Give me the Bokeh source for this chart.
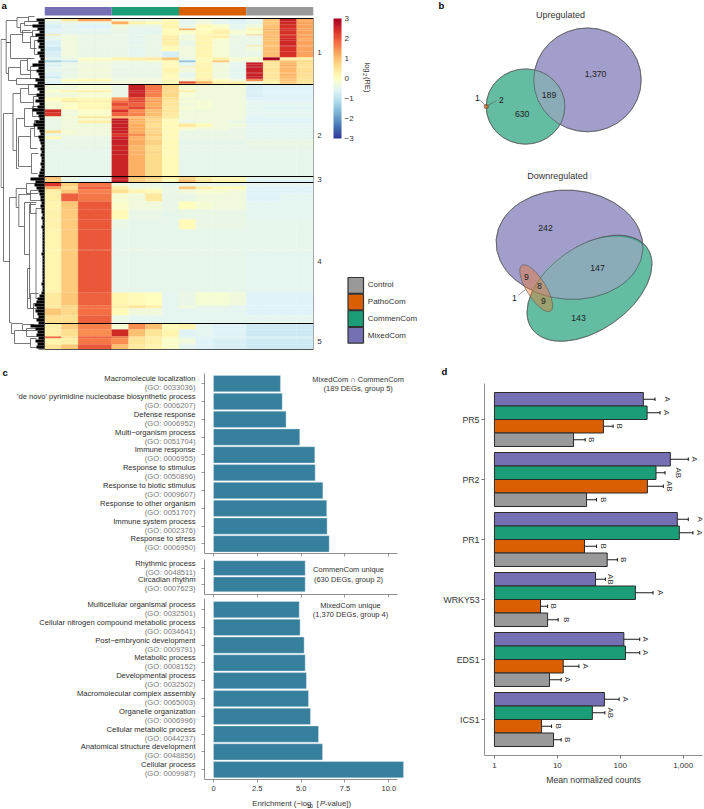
import numpy as np
from bokeh.core.properties import value
from bokeh.embed import file_html
from bokeh.resources import INLINE
from bokeh.plotting import figure
from bokeh.layouts import row, column
from bokeh.palettes import RdYlBu
from bokeh.models import (Range1d, Label, LabelSet, ColumnDataSource, LinearColorMapper, ColorBar,
                          FixedTicker, Whisker, TeeHead)

# ---------- colours
PURPLE, GREEN, ORANGE, GREY = "#7570b3", "#1b9e77", "#d95f02", "#999999"
BAR = "#367f9d"
FONT = "Liberation Sans"
value_font = value(FONT)

# ---------- panel a: bands of rows (height in rows, then 16 relative expression values)
group_names = ["MixedCom", "CommenCom", "PathoCom", "Control"]
group_colors = [PURPLE, GREEN, ORANGE, GREY]
cluster_labels = ["1", "2", "3", "4", "5"]
cluster_ends = [66, 158, 164, 305, 331]
cluster_label_y = [52, 134.7, 179.3, 260.7, 341]

heat_heights = [
    3, 3, 4, 2, 4, 1, 3, 2, 5, 1, 5, 6, 3, 2, 2, 2, 1, 5, 1, 3, 2, 1, 2, 2, 1,   # 1
    6, 2, 5, 3, 2, 4, 3, 3, 4, 2, 2, 3, 4, 3, 3, 3, 3, 6, 5, 4, 22,              # 2
    3, 3,                                                                        # 3
    4, 3, 4, 8, 8, 10, 10, 20, 1, 42, 13, 3, 7, 8,                               # 4
    6, 7, 2, 6, 5,                                                               # 5
]
heat_values = [
    [-.3, .5, 1.3, 1.3, -.3, -.4, -.4, .1, -.5, -.3, -.5, -.7, -.5, .9, 2.6, 1.2],
    [-.5, -.4, -.4, -.4, 1.2, .3, .1, .2, -.5, -.3, -.5, -.6, -.5, .9, 2.5, 1.3],
    [-.7, -.5, -.6, -.6, -.3, -.4, -.4, .2, -.4, .1, -.1, -.5, -.3, 1.0, 2.4, 1.3],
    [-.6, -.5, -.5, -.5, -.4, -.5, -.5, .1, 1.1, .0, .2, -.4, .2, 1.1, 2.4, 1.3],
    [-.6, -.5, -.5, -.5, -.4, -.5, -.5, .1, -.1, .1, .3, -.2, -.1, 1.0, 2.4, 1.3],
    [.6, -.4, -.4, -.4, -.3, -.4, -.4, .2, -.3, .2, .1, -.3, .8, 1.2, 2.3, 1.3],
    [-.5, -.3, -.4, -.4, -.4, -.5, -.4, .3, -.3, .2, .3, -.4, -.4, 1.0, 2.4, 1.3],
    [-.5, -.3, -.4, -.4, -.4, -.5, -.4, .4, -.3, .2, -.1, -.4, -.4, 1.0, 2.5, 1.2],
    [-.7, -.3, -.4, -.4, -.4, -.5, -.4, .3, -.4, .2, -.2, -.4, -.4, 1.0, 2.5, 1.3],
    [-.6, -.3, -.4, -.4, -.4, -.4, -.4, .3, -.4, .2, -.2, -.5, .5, 1.0, 2.4, 1.3],
    [-.8, -.3, -.4, -.4, -.4, -.5, -.4, .1, -.3, .2, -.2, -.4, -.3, 1.0, 2.4, 1.3],
    [-.7, -.3, -.4, -.4, -.4, -.5, -.4, -.7, -.3, .2, -.2, -.4, -.4, 1.0, 2.4, 1.3],
    [-.5, -.4, -.1, -.1, .2, .3, .4, .9, -.4, .1, .3, -.2, -.1, 3.0, .3, .3],
    [-1.3, -.9, -.2, -.2, -.3, -.3, -.2, .1, -1.5, .1, .9, -.3, -.3, .6, 1.0, .7],
    [-.5, -.4, -.3, -.3, -.4, -.4, -.4, .1, -.5, .2, -.3, -.5, 2.6, .5, 1.1, .6],
    [-.7, -.4, -.3, -.3, -.4, -.4, -.4, .1, -.5, .2, -.3, -.5, 2.6, .5, 1.2, .6],
    [-.6, -.3, -.3, -.3, -.3, -.4, -.4, .1, .3, .3, -.3, -.5, 2.7, .5, 1.1, .5],
    [-.5, -.4, -.3, -.3, -.4, -.4, -.4, .2, -.3, .2, -.3, -.5, 2.6, .5, 1.1, .6],
    [-.7, -.4, -.3, -.3, -.4, -.4, -.4, .2, -.4, .2, -.3, -.5, 2.6, .5, 1.1, .7],
    [-.6, -.4, -.3, -.3, -.4, -.4, -.4, .1, -.5, .2, -.3, -.5, 2.6, .5, 1.1, .6],
    [-.8, -.4, -.3, -.3, -.4, -.4, -.4, .1, -.4, .2, -.3, -.5, 2.6, .5, 1.1, .6],
    [-.5, -.3, .0, .0, -.4, -.3, -.3, .1, -.3, .3, -.2, -.4, 2.5, .5, 1.1, .6],
    [-.5, .1, .2, .2, -.3, -.3, -.3, .2, -.3, .3, .0, -.3, 1.5, .4, 1.0, .6],
    [-.6, -.3, -.3, -.3, -.3, -.3, -.3, .1, 2.1, 1.2, .3, .3, -.3, .2, .8, .5],
    [-.6, -.3, -.3, -.3, -.3, -.3, -.3, .1, 1.5, 1.0, .4, .5, -.2, .3, .9, .6],
    # cluster 2
    [-.3, -.3, -.2, -.2, -.4, 2.6, 1.7, .7, -.2, -.3, -.3, -.3, -.7, -.6, -.6, -.6],
    [-.1, .2, .3, .3, -.4, 2.6, 1.7, .7, .3, -.3, -.3, -.3, -.7, -.6, -.6, -.6],
    [-.3, -.3, -.2, -.2, -.4, 2.5, 1.6, .7, -.2, -.3, -.3, -.3, -.7, -.6, -.6, -.6],
    [.0, .2, .1, .1, 1.4, 2.1, 1.2, .6, -.3, -.3, -.3, -.3, -.6, -.6, -.6, -.6],
    [-.1, .4, .3, .3, 1.8, 2.2, 1.4, .5, -.2, -.2, -.3, -.3, -.5, -.6, -.6, -.6],
    [-.2, -.1, .1, .1, 2.1, 1.9, 1.2, .5, -.3, -.2, -.3, -.3, -.5, -.5, -.5, -.5],
    [-.2, .0, .2, .2, 1.8, 2.2, 1.3, .4, -.2, -.2, -.3, -.3, -.5, -.6, -.6, -.6],
    [2.5, -.3, -.1, -.1, 2.4, 1.5, 1.0, .5, -.3, -.3, -.3, -.3, -.5, -.5, -.5, -.5],
    [2.3, -.3, -.1, -.1, 1.9, 1.6, 1.0, .4, -.3, -.3, -.3, -.3, -.5, -.5, -.5, -.5],
    [-.3, -.2, .5, .5, 1.0, .9, .8, .4, -.3, -.3, -.3, -.3, -.6, -.5, -.5, -.5],
    [-.4, -.3, -.2, -.2, 2.7, 1.2, .7, .1, -.3, -.3, -.3, -.3, -.6, -.6, -.6, -.6],
    [-.4, -.3, .3, .3, 2.6, 1.1, .7, .1, -.4, -.3, -.3, -.4, -.6, -.6, -.6, -.6],
    [-.4, -.3, -.3, -.3, 2.6, 1.2, .6, .1, .4, .1, -.3, -.3, -.5, -.5, -.5, -.5],
    [-.4, -.3, -.3, -.3, 2.6, 1.2, .7, .1, -.2, -.3, -.3, -.4, -.5, -.5, -.5, -.5],
    [.6, -.2, -.3, -.3, 2.6, 1.2, .7, .1, -.4, -.4, -.4, -.4, -.5, -.5, -.5, -.5],
    [-.4, -.3, -.3, -.3, 2.3, 1.5, .8, .1, -.4, -.4, -.4, -.4, -.5, -.5, -.5, -.5],
    [.1, -.4, -.4, -.4, 2.55, 1.15, .65, .1, -.4, -.4, -.4, -.4, -.5, -.5, -.5, -.5],
    [-.45, -.4, -.4, -.4, 2.6, 1.2, .75, .1, -.45, -.45, -.45, -.45, -.4, -.4, -.4, -.4],
    [-.45, -.45, -.45, -.45, 2.55, 1.1, .6, .1, -.45, -.45, -.45, -.45, -.45, -.45, -.45, -.45],
    [-.45, -.45, -.45, -.45, 2.6, 1.15, .7, .1, -.45, -.45, -.45, -.45, -.45, -.45, -.45, -.45],
    [-.45, -.45, -.45, -.45, 2.55, 1.15, .65, .1, -.45, -.45, -.45, -.45, -.45, -.45, -.45, -.45],
    # cluster 3
    [1.0, -.3, -.5, -.5, 2.6, .9, .7, .2, .7, .3, .1, .1, -.5, -.5, -.5, -.5],
    [.8, -.5, -.6, -.6, 2.6, .8, .6, .1, 1.0, .4, .2, .2, -.6, -.6, -.6, -.6],
    # cluster 4
    [2.3, .8, 1.7, 1.7, -.3, -.4, -.4, -.5, -.4, -.4, -.4, -.4, -.5, -.5, -.5, -.5],
    [1.2, .6, 1.9, 1.9, .3, -.3, -.3, -.4, .9, .3, .1, .1, -.6, -.6, -.6, -.6],
    [.3, .9, 1.6, 1.6, .6, .2, .1, -.4, -.3, -.2, -.2, -.3, -.6, -.6, -.6, -.6],
    [.3, 1.9, 1.7, 1.7, -.2, -.3, .4, -.4, -.4, -.3, -.3, -.3, -.6, -.6, -.5, -.5],
    [.2, .9, 2.0, 2.0, -.1, -.3, -.3, -.4, .0, -.2, -.3, -.3, -.5, -.5, -.5, -.5],
    [.25, .85, 2.0, 2.0, .1, -.4, -.4, -.45, -.4, -.4, -.4, -.4, -.5, -.5, -.5, -.5],
    [.25, .85, 2.0, 2.0, -.4, -.45, -.45, -.45, .1, -.4, -.4, -.4, -.45, -.45, -.45, -.45],
    [.2, .85, 2.0, 2.0, -.45, -.45, -.45, -.45, -.45, -.45, -.45, -.45, -.45, -.45, -.45, -.45],
    [.2, .85, 2.0, 2.0, -.45, -.35, -.45, -.45, -.45, -.45, -.45, -.45, -.45, -.45, -.45, -.45],
    [.2, .85, 2.0, 2.0, -.45, -.45, -.45, -.45, -.45, -.45, -.45, -.45, -.5, -.5, -.5, -.5],
    [.4, .9, 1.9, 1.9, .2, .1, .0, -.5, -.4, -.2, -.2, -.3, -.6, -.6, -.6, -.6],
    [.4, .7, 1.8, 1.8, .3, .5, .3, -.5, -.3, -.4, -.4, -.5, -.6, -.6, -.6, -.6],
    [.9, .7, 1.8, 1.8, .1, -.3, -.3, -.5, -.5, -.5, -.5, -.5, -.6, -.6, -.6, -.6],
    [.6, .6, 1.9, 1.9, -.4, -.5, -.5, -.5, -.5, -.5, -.5, -.5, -.5, -.5, -.5, -.5],
    # cluster 5
    [.3, .8, 1.6, 1.6, -.2, 1.5, 1.0, .1, .2, -.5, -.6, -.6, -.8, -.8, -.8, -.8],
    [.3, .6, 1.5, 1.5, 2.5, 1.0, .5, .2, -.6, -.5, -.6, -.6, -.8, -.8, -.8, -.8],
    [1.8, .5, 1.9, 1.9, 1.6, .6, .3, .1, -.5, -.6, -.6, -.6, -.7, -.7, -.7, -.7],
    [.2, .3, 1.7, 1.7, 1.5, .5, .3, -.1, -.3, -.6, -.7, -.7, -.8, -.8, -.8, -.8],
    [.5, .9, 2.0, 2.0, 1.0, .4, .2, -.1, -.5, -.6, -.7, -.7, -.8, -.8, -.8, -.8],
]

# ---------- dendrogram (depth, row of upper child, row of lower child, depth of upper child, depth of lower child)
dendro_brackets = [
    (0.5, 21, 169, 5.7, 3), (3, 95, 243, 12.5, 9), (5.7, 2, 24, 16.5, 10), (16.5, -1, 9, 28, 20),
    (28, -2, 3, 34, 36), (20, 5, 14, 24, 32), (24, 3, 7, 36, 36), (32, 12, 18, 38, 37),
    (10, 16, 40, 22, 30), (22, 12, 24, 30, 30), (30, 18, 30, 34, 36), (34, 22, 36, 38, 38),
    (5.7, 24, 55, 10, 8), (8, 49, 62, 20, 16), (20, 42, 56, 27, 30), (27, 40, 52, 34, 36),
    (30, 48, 60, 36, 38), (16, 60, 66, 36, 38),
    (12.5, 75, 132, 20, 16), (20, 70, 84, 28, 33), (28, 66, 76, 36, 38), (33, 78, 90, 38, 36),
    (16, 100, 150, 24, 18), (24, 90, 108, 32, 34), (32, 88, 98, 38, 38), (18, 118, 148, 30, 31),
    (30, 110, 130, 34, 37), (31, 135, 155, 38, 37), (34, 102, 118, 38, 40),
    (9, 179, 304, 15.7, 11), (15.7, 170, 189, 26, 18.3), (26, 165, 175, 36, 38),
    (18.3, 176, 208, 30, 24), (30, 172, 182, 38, 40), (24, 184, 236, 30, 29),
    (30, 184, 195, 36, 36), (29, 186, 280, 35.5, 27), (35.5, 190, 280, 41, 41),
    (27, 250, 290, 30, 33), (30, 275, 290, 38, 36), (33, 285, 300, 38, 40),
    (11, 305, 315, 22, 14), (22, 306, 312, 34, 36), (14, 312, 325, 26, 30),
    (26, 310, 318, 37, 38), (30, 320, 329, 36, 38),
]
dendro_leaf_widths = [
    8, 6, 12, 7, 5, 9, 6, 7, 5, 6, 4, 7, 5, 4, 6, 12, 6, 8, 6, 5, 9, 7,
    10, 7, 5, 8, 6, 9, 5, 7, 12, 8, 6, 5, 9, 11, 7, 5, 4, 6, 5, 4, 3, 4, 3, 4, 3, 3, 4, 3, 4, 5, 6,
    14, 9,
    10, 8, 6, 5, 4, 4, 3, 4, 3, 3, 2, 3, 2, 2, 3, 2, 2, 2, 2, 2, 2, 2, 2, 3, 2, 2, 2, 2, 2, 2, 2, 2, 2, 3, 2,
    2, 3, 5, 7, 8, 10, 8, 9, 7, 6, 8, 6,
    14, 9, 7, 8, 6, 9, 7, 8, 6,
]

# ---------- legend / colour bar
legend_names = ["Control", "PathoCom", "CommenCom", "MixedCom"]
legend_colors = [GREY, ORANGE, GREEN, PURPLE]
cbar_ticks = [-3, -2, -1, 0, 1, 2, 3]

# ---------- panel b
venn_up_labels = ["1,370", "189", "630", "2", "1"]
venn_down_labels = ["242", "147", "143", "9", "8", "9", "1"]

# ---------- panel c
c1_names = ["Macromolecule localization", "'de novo' pyrimidine nucleobase biosynthetic process", "Defense response",
            "Multi\u2212organism process", "Immune response", "Response to stimulus", "Response to biotic stimulus",
            "Response to other organism", "Immune system process", "Response to stress"]
c1_go = ["0033036", "0006207", "0006952", "0051704", "0006955", "0050896", "0009607", "0051707", "0002376", "0006950"]
c1_values = [3.82, 3.92, 4.14, 4.92, 5.78, 5.80, 6.24, 6.46, 6.48, 6.60]
c2_names = ["Rhythmic process", "Circadian rhythm"]
c2_go = ["0048511", "0007623"]
c2_values = [5.23, 5.23]
c3_names = ["Multicellular organismal process", "Cellular nitrogen compound metabolic process",
            "Post\u2212embryonic development", "Metabolic process", "Developmental process",
            "Macromolecular complex assembly", "Organelle organization", "Cellular metabolic process",
            "Anatomical structure development", "Cellular process"]
c3_go = ["0032501", "0034641", "0009791", "0008152", "0032502", "0065003", "0006996", "0044237", "0048856", "0009987"]
c3_values = [4.89, 4.94, 5.17, 5.23, 5.30, 5.42, 5.53, 5.99, 6.22, 10.84]
c_ticks = [0, 2.5, 5, 7.5, 10]
c_ticklabels = ["0", "2.5", "5.0", "7.5", "10.0"]

# ---------- panel d
genes = ["PR5", "PR2", "PR1", "WRKY53", "EDS1", "ICS1"]
mean_mixed = [233, 625, 807, 40.4, 114, 56]
lo_mixed = [111, 38.5, 403, 22.3, 24.9, 16.6]
hi_mixed = [357, 1206, 1206, 58, 204, 96]
let_mixed = ["A", "A", "A", "AB", "A", "A"]
off_mixed = [12, 6.5, 12, 5.5, 6, 6]
mean_commen = [267, 370, 868, 174, 121, 36]
lo_commen = [99.5, 225, 305, 15.7, 39.5, 16.6]
hi_commen = [429, 515, 1430, 332, 204, 57]
let_commen = ["A", "AB", "A", "A", "A", "AB"]
off_commen = [6.5, 13, 7, 7, 6, 6]
mean_patho = [54, 270, 27, 5.4, 12.4, 5.6]
lo_patho = [30, 58, 11.5, 4, 3.06, 3]
hi_patho = [77, 484, 42, 7, 22, 8.1]
let_patho = ["B", "AB", "B", "B", "A", "B"]
off_patho = [6.5, 6, 6.5, 6, 6.5, 6.5]
mean_ctrl = [18.1, 29.1, 62, 7, 7.5, 8.7]
lo_ctrl = [8.6, 16, 32, 3.6, 3.6, 6]
hi_ctrl = [27.7, 42, 90, 10.3, 11.5, 11.5]
let_ctrl = ["B", "B", "B", "B", "A", "B"]
off_ctrl = [6.5, 6.5, 6, 8.5, 6, 6.5]
d_ticks = [1, 10, 100, 1000]
d_ticklabels = ["1", "10", "100", "1,000"]


def fig(w, h, xr, yr, l=0, r=0, t=0, b=0, axes=False, **kw):
    p = figure(width=w, height=h, x_range=xr, y_range=yr, output_backend="svg", toolbar_location=None,
               min_border_left=l, min_border_right=r, min_border_top=t, min_border_bottom=b,
               **({} if axes else dict(x_axis_location=None, y_axis_location=None)), **kw)
    p.grid.visible = False
    p.outline_line_color = None
    p.background_fill_color = None
    p.border_fill_color = None
    return p


def lbl(p, x, y, txt, size=8, color="#333333", align="center", bold=False, italic=False, angle=0):
    p.add_layout(Label(x=x, y=y, text=txt, text_font=FONT,
                       text_font_size=f"{size}px", text_color=color, text_align=align, text_baseline="middle",
                       text_font_style="bold" if bold else ("italic" if italic else "normal"),
                       angle=angle, angle_units="deg"))


# ---------- page-sized transparent layer for all texts that lie outside a plot frame
ov = fig(704, 809, Range1d(0, 704), Range1d(809, 0))
ov.margin = (-809, 0, 0, 0)

# ---------- dendrogram figure
dend = fig(44, 360, Range1d(0, 44), Range1d(331, -12), t=6, b=11)
xs, ys = [], []
for x, y0, y1, x0, x1 in dendro_brackets:
    xs.append([x0, x, x, x1])
    ys.append([y0, y0, y1, y1])
dend.multi_line(xs, ys, line_color="#555555", line_width=0.8)
leaf_lefts = [44 - w for w in dendro_leaf_widths]
leaf_rows = [i * 3 for i in range(len(dendro_leaf_widths))]
dend.quad(left=leaf_lefts, right=44, top=leaf_rows, bottom=[r + 3 for r in leaf_rows], fill_color="black", line_color=None)
lbl(ov, 1, 5, "a", size=9.5, color="black", align="left", bold=True)

# ---------- heat map figure
ramp = list(RdYlBu[11])
def hex2rgb(h):
    return np.array([int(h[i:i + 2], 16) for i in (1, 3, 5)], float)
anchors = np.array([hex2rgb(c) for c in ramp])
palette = []
for f in np.linspace(0, 10, 256):
    i = min(int(f), 9)
    c = anchors[i] + (anchors[i + 1] - anchors[i]) * (f - i)
    palette.append("#%02x%02x%02x" % tuple(int(round(v)) for v in c))
mapper = LinearColorMapper(palette=palette, low=-3, high=3)

heat = fig(386, 360, Range1d(0, 16), Range1d(331, -12), l=0, r=117, t=6, b=11)
L, R, T, B, V = [], [], [], [], []
pos = 0
for h, vals in zip(heat_heights, heat_values):
    for c, v in enumerate(vals):
        L.append(c); R.append(c + 1); T.append(pos); B.append(pos + h); V.append(v)
    pos += h
heat.quad(left="L", right="R", top="T", bottom="B",
          source=ColumnDataSource(dict(L=L, R=R, T=T, B=B, V=V)),
          fill_color={"field": "V", "transform": mapper}, line_color={"field": "V", "transform": mapper}, line_width=0.2)
for i, (name, colr) in enumerate(zip(group_names, group_colors)):
    heat.quad(left=4 * i, right=4 * (i + 1), top=-11.5, bottom=-3, fill_color=colr, line_color=None)
heat.quad(left=0, right=16, top=0, bottom=331, fill_color=None, line_color="#555555", line_width=1)
for e in cluster_ends[:-1]:
    heat.segment(0, e, 16, e, line_color="black", line_width=1)
heat.segment(0, 0, 16, 0, line_color="black", line_width=1)
heat.segment(0, 331, 16, 331, line_color="black", line_width=1)
heat.segment(0, 0, 0, 331, line_color="black", line_width=1)
for t_, y_ in zip(cluster_labels, cluster_label_y):
    lbl(ov, 319, y_, t_, size=8)

cb = ColorBar(color_mapper=mapper, location=(289, 211), width=8, height=120, padding=0, margin=0,
              ticker=FixedTicker(ticks=cbar_ticks), major_tick_line_color=None, bar_line_color=None,
              major_label_overrides={t: str(t).replace("-", "\u2212") for t in cbar_ticks},
              major_label_text_font=FONT, major_label_text_font_size="8px", major_label_text_color="#333333",
              label_standoff=3, background_fill_alpha=0, border_line_color=None)
heat.add_layout(cb)
lbl(ov, 367, 62, "log", size=7.5, align="left", angle=-90)
lbl(ov, 364.5, 72.5, "2", size=5.5, align="left", angle=-90)
lbl(ov, 367, 76.5, "(RE)", size=7.5, align="left", angle=-90)

# legend, drawn as swatches and texts on the page layer
legend_tops = [277, 293.6, 310.2, 326.8]
legend_text_y = [284, 301, 317.7, 334.7]
for name, colr, y_, ty in zip(legend_names, legend_colors, legend_tops, legend_text_y):
    ov.quad(left=347.5, right=363, top=y_, bottom=y_ + 15.8, fill_color=colr, line_color="#333333", line_width=1.2)
    lbl(ov, 367.3, ty, name, size=8, align="left")


# ---------- venn figure
def ellipse_pts(cx, cy, w, h, deg):
    th = np.linspace(0, 2 * np.pi, 181)[:-1]
    a = np.radians(-deg)
    ex, ey = w / 2 * np.cos(th), h / 2 * np.sin(th)
    return cx + ex * np.cos(a) - ey * np.sin(a), cy + ex * np.sin(a) + ey * np.cos(a)


def inside(px, py, cx, cy, w, h, deg):
    a = np.radians(-deg)
    dx, dy = px - cx, py - cy
    u = dx * np.cos(a) + dy * np.sin(a)
    v = -dx * np.sin(a) + dy * np.cos(a)
    return (u / (w / 2)) ** 2 + (v / (h / 2)) ** 2 <= 1


def overlap(p, e1, e2, colr):
    x1, y1 = ellipse_pts(*e1)
    x2, y2 = ellipse_pts(*e2)
    k1, k2 = inside(x1, y1, *e2), inside(x2, y2, *e1)
    xx = np.r_[x1[k1], x2[k2]]
    yy = np.r_[y1[k1], y2[k2]]
    order = np.argsort(np.arctan2(yy - yy.mean(), xx - xx.mean()))
    p.patch(xx[order], yy[order], fill_color=colr, line_color=None)


def ell(p, e, fill, alpha):
    cx, cy, w, h, deg = e
    p.ellipse(cx, cy, w, h, angle=np.radians(deg), fill_color=fill, fill_alpha=alpha, line_color="#555555", line_width=0.6)


venn = fig(274, 360, Range1d(430, 704), Range1d(360, 0))
LENS = "#8aacb8"
up_purple = (587, 77, 107.4, 109, 0)
up_green = (525, 105, 78.6, 79, 0)
ell(venn, up_purple, PURPLE, 0.68)
ell(venn, up_green, GREEN, 0.68)
overlap(venn, up_purple, up_green, LENS)
ell(venn, up_purple, None, 0)
ell(venn, up_green, None, 0)
ell(venn, (485.8, 105, 4.6, 4.6, 0), ORANGE, 0.68)
venn.segment(479, 98, 485, 104, line_color="#555555", line_width=0.6)
venn.segment(487, 104, 496, 99, line_color="#555555", line_width=0.6)
lbl(venn, 560, 9, "Upregulated", size=9)
for (x, y), t_ in zip([(595, 71), (548.5, 93), (521.7, 112.7), (501, 98.5), (477, 96.5)], venn_up_labels):
    lbl(venn, x, y, t_, size=8.7, color="#222222")

down_purple = (569, 250, 147, 114.6, -4)
down_green = (589, 295.7, 140.8, 88, 35)
ell(venn, down_purple, PURPLE, 0.68)
ell(venn, down_green, GREEN, 0.68)
overlap(venn, down_purple, down_green, LENS)
ell(venn, down_purple, None, 0)
ell(venn, down_green, None, 0)
ell(venn, (535.7, 295.7, 54, 20, -58), "#f07828", 0.42)
venn.segment(518, 303, 525, 297, line_color="#555555", line_width=0.6)
lbl(venn, 557, 178, "Downregulated", size=9)
for (x, y), t_ in zip([(545, 232), (597, 274), (578, 327), (526, 284), (539, 293.5), (543, 309.5), (514, 306)], venn_down_labels):
    lbl(venn, x, y, t_, size=8.7, color="#222222")
lbl(ov, 438, 5, "b", size=9.5, color="black", align="left", bold=True)


# ---------- panel c
def cpanel(values, names, gos, h, t, b, y_low, y_high, first_y, step, labelled=False):
    xr = Range1d(-0.513, 10.895)
    p = fig(440, h, xr, Range1d(y_high, y_low), l=204, r=36, t=t, b=b, axes=True)
    idx = list(range(len(values)))
    p.hbar(y=idx, left=0, right=values, height=0.915, fill_color=BAR, line_color="#dfeef2", line_width=0.4)
    for a in (p.xaxis[0], p.yaxis[0]):
        a.axis_line_color = "#909090"
        a.axis_line_width = 1
        a.major_tick_line_color = "#707070"
        a.major_tick_line_width = 0.7
        a.major_tick_in = 0
        a.major_tick_out = 3
        a.minor_tick_line_color = None
        a.major_label_standoff = 0
    p.xaxis[0].bounds = (-0.513, 10.5)
    p.xaxis[0].ticker = FixedTicker(ticks=c_ticks)
    p.yaxis[0].ticker = FixedTicker(ticks=idx)
    p.yaxis[0].major_label_overrides = {i: "" for i in idx}
    if labelled:
        p.xaxis[0].major_label_overrides = dict(zip(c_ticks, c_ticklabels))
        p.xaxis[0].major_label_text_font_size = "7.5px"
        p.xaxis[0].major_label_text_font = FONT
        p.xaxis[0].major_label_text_color = "#333333"
        p.xaxis[0].major_label_standoff = 3
    else:
        p.xaxis[0].major_label_overrides = {t_: "" for t_ in c_ticks}
    ys_ = [first_y + step * i for i in idx]
    src = ColumnDataSource(dict(y=ys_, x=[195] * len(idx), n=names, g=[f"(GO: {g})" for g in gos]))
    ov.add_layout(LabelSet(x="x", y="y", text="n", source=src, y_offset=5, text_align="right",
                           text_baseline="middle", text_font=value_font, text_font_size="7.6px", text_color="#2c2c2c"))
    ov.add_layout(LabelSet(x="x", y="y", text="g", source=src, y_offset=-4, text_align="right",
                           text_baseline="middle", text_font=value_font, text_font_size="7.6px", text_color="#777777"))
    return p


c1 = cpanel(c1_values, c1_names, c1_go, 199, 13, 6, -0.573, 9.54, 383.2, 17.8)
lbl(ov, 357.7, 379, "MixedCom \u2229 CommenCom", size=7.5)
lbl(ov, 357.7, 388.3, "(189 DEGs, group 5)", size=7.5)
lbl(ov, 2, 372, "c", size=9.5, color="black", align="left", bold=True)
c2 = cpanel(c2_values, c2_names, c2_go, 39, 0, 4, -0.53, 1.62, 567.8, 16.4)
lbl(ov, 348, 569.3, "CommenCom unique", size=7.5)
lbl(ov, 348, 578.8, "(630 DEGs, group 2)", size=7.5)
c3 = cpanel(c3_values, c3_names, c3_go, 211, 0, 30, -0.62, 9.55, 609, 17.8, labelled=True)
lbl(ov, 350, 604.7, "MixedCom unique", size=7.5)
lbl(ov, 350, 614, "(1,370 DEGs, group 4)", size=7.5)
lbl(ov, 251.7, 803, "Enrichment (\u2212log", size=7.8, align="left")
lbl(ov, 306.5, 805, "10", size=5.5, align="left")
lbl(ov, 316, 803, "[", size=7.8, align="left")
lbl(ov, 319.5, 803, "P", size=7.8, align="left", italic=True)
lbl(ov, 324.5, 803, "-value])", size=7.8, align="left")

# ---------- panel d
d = fig(264, 449, Range1d(0.695, 2029), Range1d(5.6, -0.6), l=43, r=2, t=23, b=54, axes=True, x_axis_type="log")
series = [
    (mean_mixed, lo_mixed, hi_mixed, let_mixed, off_mixed, PURPLE),
    (mean_commen, lo_commen, hi_commen, let_commen, off_commen, GREEN),
    (mean_patho, lo_patho, hi_patho, let_patho, off_patho, ORANGE),
    (mean_ctrl, lo_ctrl, hi_ctrl, let_ctrl, off_ctrl, GREY),
]
for k, (mean, lo, hi, let, off, colr) in enumerate(series):
    ys_ = [g + (k - 1.5) * 0.225 for g in range(len(genes))]
    src = ColumnDataSource(dict(y=ys_, m=mean, lo=lo, hi=hi, t=let, o=off, base=[1] * len(ys_)))
    d.hbar(y="y", left="base", right="m", height=0.225, source=src, fill_color=colr, line_color="#2a2a2a", line_width=1)
    d.add_layout(Whisker(source=src, base="y", lower="lo", upper="hi", dimension="width", line_color="black",
                         line_width=0.9, upper_head=TeeHead(size=3.5, line_color="black", line_width=0.9),
                         lower_head=TeeHead(size=3.5, line_color="black", line_width=0.9)))
    d.add_layout(LabelSet(x="hi", y="y", text="t", x_offset="o", source=src, angle=-np.pi / 2, text_align="center",
                          text_baseline="middle", text_font=value_font, text_font_size="8px", text_color="#333333"))
for a in (d.xaxis[0], d.yaxis[0]):
    a.axis_line_color = "#909090"
    a.major_tick_line_color = "#707070"
    a.major_tick_in = 0
    a.major_tick_out = 3
    a.minor_tick_line_color = None
    a.major_label_text_font = FONT
    a.major_label_text_color = "#333333"
    a.axis_label_text_font = FONT
d.xaxis[0].ticker = FixedTicker(ticks=d_ticks)
d.xaxis[0].major_label_overrides = dict(zip(d_ticks, d_ticklabels))
d.xaxis[0].major_label_text_font_size = "8px"
d.xaxis[0].major_label_standoff = 4
d.yaxis[0].ticker = FixedTicker(ticks=list(range(len(genes))))
d.yaxis[0].major_label_overrides = dict(enumerate(genes))
d.yaxis[0].major_label_text_font_size = "8.75px"
d.yaxis[0].major_label_standoff = 2
d.xaxis[0].axis_label = "Mean normalized counts"
d.xaxis[0].axis_label_text_font_size = "8.7px"
d.xaxis[0].axis_label_text_font_style = "normal"
d.xaxis[0].axis_label_text_color = "#333333"
d.xaxis[0].axis_label_standoff = 4
lbl(ov, 441, 371, "d", size=9.5, color="black", align="left", bold=True)

top = row(dend, heat, venn, spacing=0)
left_c = column(c1, c2, c3, spacing=0)
bottom = row(left_c, d, spacing=0)
root = column(top, bottom, ov, spacing=0)

html = file_html(root, INLINE)
open("out.html", "w").write(html)
